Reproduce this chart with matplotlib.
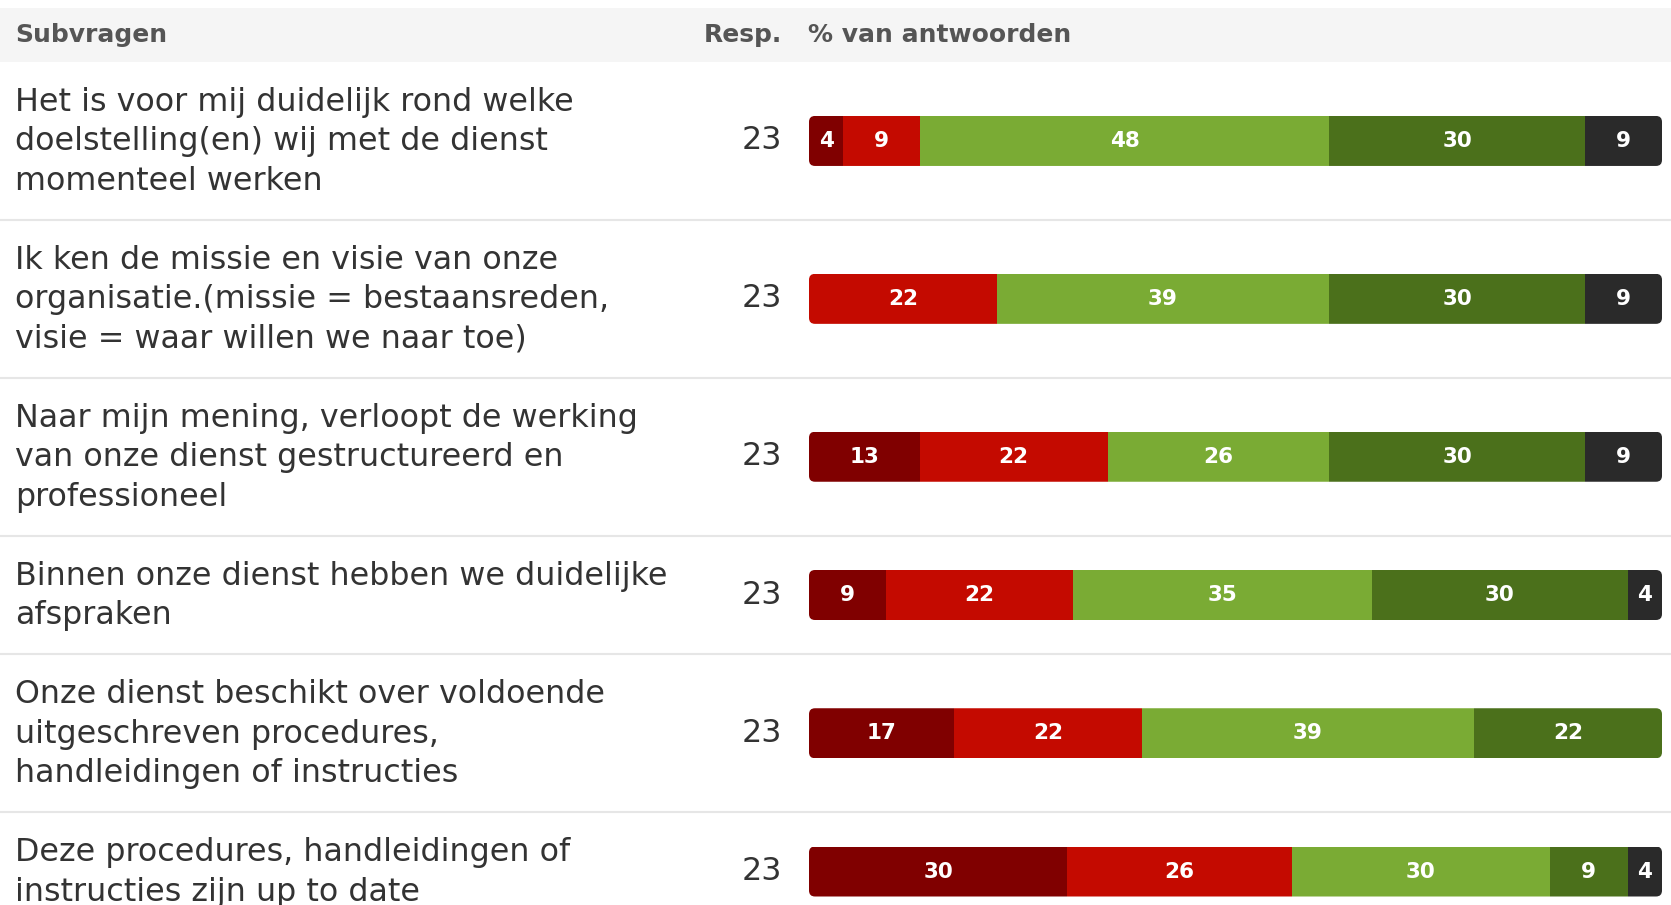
import numpy as np
import matplotlib.pyplot as plt
from matplotlib.patches import FancyBboxPatch, Rectangle

questions = [
    "Het is voor mij duidelijk rond welke\ndoelstelling(en) wij met de dienst\nmomenteel werken",
    "Ik ken de missie en visie van onze\norganisatie.(missie = bestaansreden,\nvisie = waar willen we naar toe)",
    "Naar mijn mening, verloopt de werking\nvan onze dienst gestructureerd en\nprofessioneel",
    "Binnen onze dienst hebben we duidelijke\nafspraken",
    "Onze dienst beschikt over voldoende\nuitgeschreven procedures,\nhandleidingen of instructies",
    "Deze procedures, handleidingen of\ninstructies zijn up to date",
]
responses = [23, 23, 23, 23, 23, 23]

# % of answers per category, from most negative to most positive / no answer
pct_very_neg = [4, 0, 13, 9, 17, 30]
pct_neg = [9, 22, 22, 22, 22, 26]
pct_pos = [48, 39, 26, 35, 39, 30]
pct_very_pos = [30, 30, 30, 30, 22, 9]
pct_other = [9, 9, 9, 4, 0, 4]
cat_colors = ["#800000", "#c40a00", "#7aab34", "#4b701b", "#2a2a2a"]

W, H = 1671, 905
fig = plt.figure(figsize=(W / 100, H / 100), dpi=100)

ax = fig.add_axes([0, 0, 1, 1])
ax.set_xlim(0, W)
ax.set_ylim(H, 0)
ax.axis("off")

bar_x0, bar_w = 809, 853
bax = fig.add_axes([bar_x0 / W, 0, bar_w / W, 1])
bax.set_xlim(0, 100)
bax.set_ylim(H, 0)
bax.axis("off")

# header
ax.add_patch(Rectangle((0, 8), W, 54, color="#f5f5f5", lw=0))
head = dict(fontsize=18, weight="bold", color="#555555", va="center")
ax.text(15, 35, "Subvragen", **head)
ax.text(782, 35, "Resp.", ha="right", **head)
ax.text(808, 35, "% van antwoorden", **head)

# rows
line_h, pad = 39.3, 40
top = 62
centers = []
for q, n_resp in zip(questions, responses):
    lines = q.split("\n")
    n = len(lines)
    h = pad + line_h * n
    yc = top + h / 2
    centers.append(yc)
    for j, line in enumerate(lines):
        ax.text(15, yc + (j - (n - 1) / 2) * line_h + 9.5, line, fontsize=22.9,
                color="#333333", va="baseline")
    ax.text(782, yc, str(n_resp), fontsize=22.9, color="#333333", va="center", ha="right")
    top += h
    if top < H:
        ax.plot([0, W], [top, top], color="#e6e6e6", lw=1.5)

data = np.array([pct_very_neg, pct_neg, pct_pos, pct_very_pos, pct_other], dtype=float).T
widths = data / data.sum(axis=1, keepdims=True) * 100
lefts = np.cumsum(widths, axis=1) - widths

bar_h = 50
px_per_unit = bar_w / 100
clips = []
for yc in centers:
    clips.append(FancyBboxPatch((0, yc - bar_h / 2), 100, bar_h,
                                boxstyle=f"round,pad=0,rounding_size={6 / px_per_unit}",
                                mutation_aspect=px_per_unit, transform=bax.transData))

for k, col in enumerate(cat_colors):
    bars = bax.barh(centers, widths[:, k], left=lefts[:, k], height=bar_h, color=col, lw=0)
    for i, b in enumerate(bars.patches):
        b.set_clip_path(clips[i])
        v = data[i, k]
        if v > 0:
            bax.text(lefts[i, k] + widths[i, k] / 2, centers[i], f"{v:.0f}", ha="center",
                     va="center", color="white", weight="bold", fontsize=15.5)

fig.savefig("out.png", dpi=100)
